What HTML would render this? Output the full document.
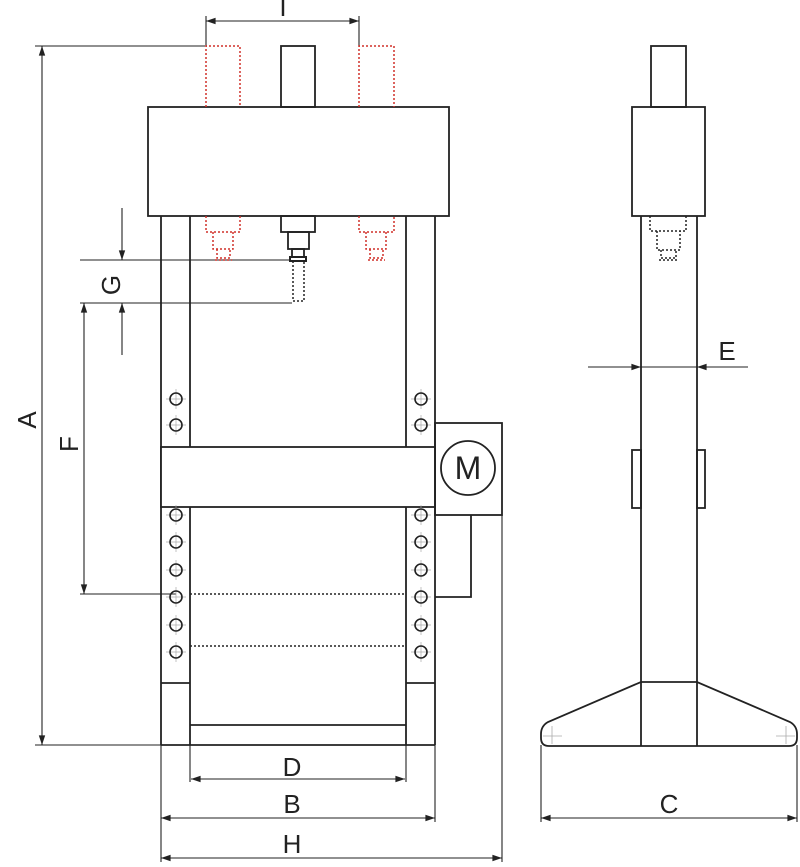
<!DOCTYPE html>
<html><head><meta charset="utf-8"><style>
html,body{margin:0;padding:0;background:#fff;}
svg{display:block;}
text{font-family:"Liberation Sans","DejaVu Sans",sans-serif;fill:#222;}
</style></head><body>
<svg width="800" height="867" viewBox="0 0 800 867" xmlns="http://www.w3.org/2000/svg">
<defs>
<marker id="ar" viewBox="0 0 12 10" refX="12" refY="5" markerWidth="12" markerHeight="8" markerUnits="userSpaceOnUse" orient="auto-start-reverse">
<path d="M0,1 L12,5 L0,9 z" fill="#222"/></marker>
<g id="h"><line x1="-10" y1="0" x2="10" y2="0" stroke="#aaa" stroke-width="0.7"/><line x1="0" y1="-10" x2="0" y2="10" stroke="#aaa" stroke-width="0.7"/><circle r="6" fill="none" stroke="#222" stroke-width="1.6"/></g>
</defs>
<g fill="none" stroke="#222" stroke-width="1.8">
<g stroke-width="1.1">
<line x1="206" y1="16" x2="206" y2="46"/><line x1="359" y1="16" x2="359" y2="46"/>
<line x1="206" y1="21" x2="359" y2="21" marker-start="url(#ar)" marker-end="url(#ar)"/>
<line x1="35" y1="46" x2="205" y2="46"/>
<line x1="35" y1="745" x2="161" y2="745"/>
<line x1="42" y1="46" x2="42" y2="745" marker-start="url(#ar)" marker-end="url(#ar)"/>
<line x1="80" y1="260" x2="291" y2="260"/>
<line x1="80" y1="303" x2="292" y2="303"/>
<line x1="122" y1="208" x2="122" y2="260" marker-end="url(#ar)"/>
<line x1="122" y1="355" x2="122" y2="303" marker-end="url(#ar)"/>
<line x1="80" y1="594" x2="176" y2="594"/>
<line x1="84" y1="303" x2="84" y2="594" marker-start="url(#ar)" marker-end="url(#ar)"/>
<line x1="190" y1="745" x2="190" y2="782"/><line x1="406" y1="745" x2="406" y2="782"/>
<line x1="191" y1="779" x2="405" y2="779" marker-start="url(#ar)" marker-end="url(#ar)"/>
<line x1="161" y1="745" x2="161" y2="862"/><line x1="435" y1="745" x2="435" y2="822"/>
<line x1="161" y1="818" x2="435" y2="818" marker-start="url(#ar)" marker-end="url(#ar)"/>
<line x1="502" y1="515" x2="502" y2="862"/>
<line x1="161" y1="858" x2="502" y2="858" marker-start="url(#ar)" marker-end="url(#ar)"/>
<line x1="541" y1="745" x2="541" y2="822"/><line x1="797" y1="745" x2="797" y2="822"/>
<line x1="541" y1="818" x2="797" y2="818" marker-start="url(#ar)" marker-end="url(#ar)"/>
<line x1="588" y1="367" x2="641" y2="367" marker-end="url(#ar)"/>
<line x1="748" y1="367" x2="697" y2="367" marker-end="url(#ar)"/>
<line x1="641" y1="367" x2="697" y2="367"/>
</g>
<rect x="281" y="46" width="34" height="61"/>
<rect x="148" y="107" width="301" height="109"/>
<line x1="161" y1="216" x2="161" y2="745"/>
<line x1="190" y1="216" x2="190" y2="745"/>
<line x1="406" y1="216" x2="406" y2="745"/>
<line x1="435" y1="216" x2="435" y2="745"/>
<rect x="161" y="447" width="274" height="60" fill="#fff"/>
<line x1="161" y1="683" x2="190" y2="683"/>
<line x1="406" y1="683" x2="435" y2="683"/>
<line x1="190" y1="725" x2="406" y2="725"/>
<line x1="161" y1="745" x2="435" y2="745"/>
<rect x="281" y="216" width="34" height="16"/>
<rect x="288" y="232" width="21" height="17"/>
<rect x="292" y="249" width="12" height="8"/>
<rect x="290" y="257" width="16" height="4" stroke-width="2"/>
<g stroke-dasharray="2,2" stroke-width="1.5">
<path d="M293,261 V301 H304 V261"/>
<line x1="190" y1="594" x2="406" y2="594"/>
<line x1="190" y1="646" x2="406" y2="646"/>
</g>
<g stroke="#d0302a" stroke-dasharray="2,2" stroke-width="1.5">
<path d="M206,107 V46 H240 V107"/>
<path d="M359,107 V46 H394 V107"/>
<path d="M206,216 V232 H240 V216 M213,232 V249 H233 V232 M217,249 V258 H230 V249 M215,260 H232"/>
<path d="M359,216 V232 H394 V216 M366,232 V249 H386 V232 M370,249 V258 H383 V249 M368,260 H385"/>
</g>
<rect x="435" y="423" width="67" height="92"/>
<circle cx="468" cy="468" r="27"/>
<path d="M471,515 V597 H435"/>
<rect x="651" y="46" width="35" height="61"/>
<rect x="632" y="107" width="73" height="109"/>
<line x1="641" y1="216" x2="641" y2="746"/>
<line x1="697" y1="216" x2="697" y2="746"/>
<rect x="632" y="450" width="9" height="58"/>
<rect x="697" y="450" width="8" height="58"/>
<g stroke-dasharray="2,2" stroke-width="1.5">
<path d="M650,216 V231 H686 V216 M657,231 V250 H680 V231 M661,250 V258 H676 V250 M659,260 H677"/>
</g>
<path d="M641,682 H697 L790,722 Q797,726 797,734 V738 Q797,746 789,746 H549 Q541,746 541,738 V734 Q541,726 548,722 Z"/>
<g stroke="#aaa" stroke-width="0.8">
<line x1="543" y1="736" x2="562" y2="736"/><line x1="552" y1="726" x2="552" y2="744"/>
<line x1="776" y1="736" x2="795" y2="736"/><line x1="786" y1="726" x2="786" y2="744"/>
</g>
</g>
<use href="#h" x="176" y="399"/><use href="#h" x="176" y="425"/>
<use href="#h" x="421" y="399"/><use href="#h" x="421" y="425"/>
<use href="#h" x="176" y="515"/><use href="#h" x="176" y="542"/><use href="#h" x="176" y="570"/><use href="#h" x="176" y="597"/><use href="#h" x="176" y="625"/><use href="#h" x="176" y="652"/>
<use href="#h" x="421" y="515"/><use href="#h" x="421" y="542"/><use href="#h" x="421" y="570"/><use href="#h" x="421" y="597"/><use href="#h" x="421" y="625"/><use href="#h" x="421" y="652"/>
<g font-size="26">
<text x="283" y="16" text-anchor="middle">I</text>
<text x="468" y="479" text-anchor="middle" font-size="32">M</text>
<text x="292" y="776" text-anchor="middle">D</text>
<text x="292" y="813" text-anchor="middle">B</text>
<text x="292" y="853" text-anchor="middle">H</text>
<text x="669" y="813" text-anchor="middle">C</text>
<text x="727" y="360" text-anchor="middle">E</text>
<text transform="translate(36,420) rotate(-90)" text-anchor="middle">A</text>
<text transform="translate(78,444) rotate(-90)" text-anchor="middle">F</text>
<text transform="translate(120,285) rotate(-90)" text-anchor="middle">G</text>
</g>
</svg>
</body></html>
